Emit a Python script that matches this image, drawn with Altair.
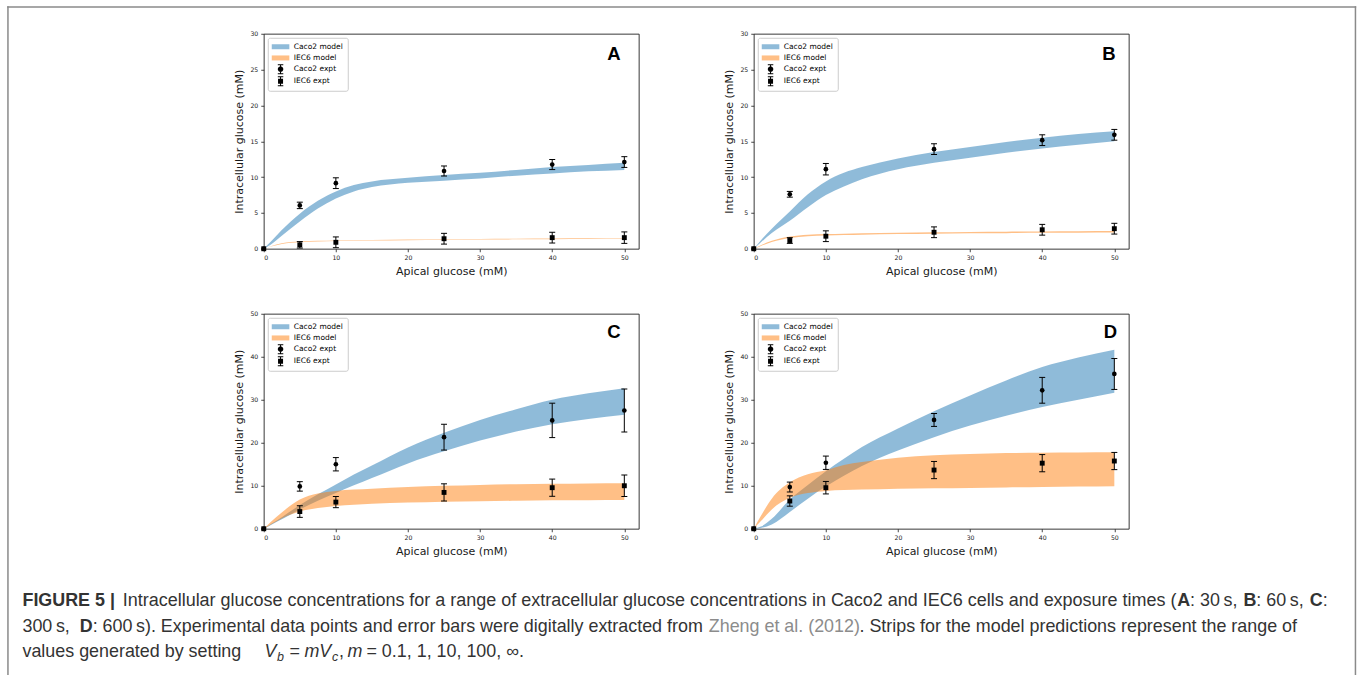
import math
import altair as alt
import pandas as pd

# ---------------- data ----------------
X_EXPT = [0, 5, 10, 25, 40, 50]

A_CACO2_Y = [0, 6.05, 9.15, 10.85, 11.75, 12.1]
A_CACO2_E = [0, 0.45, 0.75, 0.7, 0.7, 0.75]
A_IEC6_Y = [0, 0.55, 0.9, 1.4, 1.55, 1.55]
A_IEC6_E = [0, 0.45, 0.75, 0.75, 0.75, 0.8]

B_CACO2_Y = [0, 7.6, 11.1, 13.9, 15.15, 15.9]
B_CACO2_E = [0, 0.4, 0.8, 0.75, 0.75, 0.75]
B_IEC6_Y = [0, 1.15, 1.75, 2.3, 2.65, 2.8]
B_IEC6_E = [0, 0.4, 0.75, 0.75, 0.75, 0.75]

C_CACO2_Y = [0, 9.85, 15.0, 21.3, 25.2, 27.5]
C_CACO2_E = [0, 1.1, 1.55, 3.0, 4.0, 5.0]
C_IEC6_Y = [0, 4.0, 6.2, 8.45, 9.55, 10.0]
C_IEC6_E = [0, 1.35, 1.3, 2.0, 2.0, 2.5]

D_CACO2_Y = [0, 9.7, 15.35, 25.3, 32.2, 36.0]
D_CACO2_E = [0, 1.15, 1.55, 1.5, 3.0, 3.6]
D_IEC6_Y = [0, 6.45, 9.55, 13.65, 15.25, 15.75]
D_IEC6_E = [0, 1.2, 1.45, 2.0, 2.0, 2.0]

X_BAND = [0, 1, 2.5, 5, 7.5, 10, 12.5, 15, 20, 25, 30, 35, 40, 45, 50]

A_CACO2_LO = [0, 0.6, 1.8, 3.8, 5.6, 7.0, 8.0, 8.6, 9.2, 9.5, 9.8, 10.2, 10.5, 10.8, 11.0]
A_CACO2_HI = [0, 1.0, 2.6, 4.9, 6.7, 8.0, 8.9, 9.4, 9.9, 10.3, 10.6, 11.0, 11.4, 11.7, 12.0]
A_IEC6_LO = [0, 0.3, 0.68, 0.92, 1.02, 1.07, 1.11, 1.14, 1.2, 1.24, 1.28, 1.31, 1.34, 1.37, 1.39]
A_IEC6_HI = [0, 0.36, 0.76, 1.0, 1.1, 1.15, 1.19, 1.22, 1.28, 1.32, 1.36, 1.39, 1.42, 1.45, 1.47]

B_CACO2_LO = [0, 0.9, 2.2, 3.9, 5.8, 7.5, 8.7, 9.7, 11.1, 12.0, 12.7, 13.4, 14.0, 14.5, 15.0]
B_CACO2_HI = [0, 1.2, 2.8, 5.2, 7.6, 9.4, 10.6, 11.4, 12.6, 13.5, 14.2, 14.9, 15.5, 16.0, 16.4]
B_IEC6_LO = [0, 0.4, 0.95, 1.5, 1.75, 1.85, 1.92, 1.97, 2.05, 2.1, 2.15, 2.18, 2.22, 2.25, 2.27]
B_IEC6_HI = [0, 0.5, 1.1, 1.7, 1.95, 2.05, 2.1, 2.15, 2.25, 2.3, 2.35, 2.38, 2.42, 2.45, 2.47]

C_CACO2_LO = [0, 0.9, 2.2, 4.5, 6.5, 8.3, 10.1, 11.8, 15.2, 18.0, 20.5, 22.6, 24.3, 25.5, 26.5]
C_CACO2_HI = [0, 1.1, 2.7, 5.5, 8.0, 10.3, 12.6, 14.7, 18.9, 22.3, 25.3, 27.8, 30.0, 31.5, 32.7]
C_IEC6_LO = [0, 1.0, 2.4, 4.0, 4.8, 5.3, 5.6, 5.8, 6.1, 6.3, 6.4, 6.5, 6.6, 6.65, 6.7]
C_IEC6_HI = [0, 1.6, 3.8, 6.8, 8.2, 8.8, 9.1, 9.3, 9.7, 10.0, 10.2, 10.35, 10.45, 10.55, 10.6]

D_CACO2_LO = [0, 0.2, 1.0, 3.9, 7.0, 9.8, 12.3, 14.6, 18.2, 21.3, 24.0, 26.3, 28.3, 30.0, 31.6]
D_CACO2_HI = [0, 0.5, 2.3, 6.8, 10.2, 13.4, 16.3, 19.0, 23.3, 27.3, 31.0, 34.5, 37.6, 39.8, 41.6]
D_IEC6_LO = [0, 1.8, 4.5, 7.2, 8.3, 8.8, 9.0, 9.1, 9.3, 9.4, 9.5, 9.6, 9.7, 9.8, 9.9]
D_IEC6_HI = [0, 3.0, 7.0, 10.8, 12.7, 13.6, 14.8, 15.5, 16.5, 17.1, 17.4, 17.6, 17.7, 17.75, 17.8]

SERIES = ["Caco2 model", "IEC6 model", "Caco2 expt", "IEC6 expt"]
X_TICKS = [0, 10, 20, 30, 40, 50]
Y_TICKS_30 = [0, 5, 10, 15, 20, 25, 30]
Y_TICKS_50 = [0, 10, 20, 30, 40, 50]

# ---------------- styling ----------------
BLUE = "#1f77b4"
ORANGE = "#ff7f0e"
BLUE_PATCH = "#8fbbd9"
ORANGE_PATCH = "#ffbf86"
INK = "#1a1a1a"
FONT = "DejaVu Sans"
PW, PH = 375, 215
ONE = pd.DataFrame({"d": [0]})


def circle_path(cx, r, n=20):
    pts = []
    for i in range(n):
        a = 2 * math.pi * i / n
        pts.append(f"{cx + r * math.cos(a):.3f},{r * math.sin(a):.3f}")
    return "M" + "L".join(pts) + "Z"


def rect_path(x0, y0, x1, y1):
    return f"M{x0},{y0}H{x1}V{y1}H{x0}Z"


CX = 0.76
ERRBAR = (rect_path(CX - 0.1, -0.9, CX + 0.1, 0.9)
          + rect_path(CX - 0.55, -1.0, CX + 0.55, -0.8)
          + rect_path(CX - 0.55, 0.8, CX + 0.55, 1.0))
PATCH = rect_path(-1, -0.5, 2.52, 0.5)
SYM_CIRCLE = circle_path(CX, 0.55) + ERRBAR
SYM_SQUARE = rect_path(CX - 0.5, -0.5, CX + 0.5, 0.5) + ERRBAR


def make_legend():
    return alt.Legend(
        title=None, orient="top-left", offset=4, padding=4,
        symbolSize=100, symbolStrokeWidth=0,
        labelFont=FONT, labelFontSize=7.5, labelColor="black",
        labelOffset=12, rowPadding=2.2, labelLimit=300,
        strokeColor="#cccccc", fillColor="white", cornerRadius=2,
    )


def panel(bands, expts, ymax, yticks, letter, lx, ly):
    xenc = alt.X("x:Q", scale=alt.Scale(domain=[0, 52], nice=False, zero=False),
                 axis=alt.Axis(values=X_TICKS, title="Apical glucose (mM)"))

    def yenc(field):
        return alt.Y(f"{field}:Q", stack=None,
                     scale=alt.Scale(domain=[0, ymax], nice=False),
                     axis=alt.Axis(values=yticks, title="Intracellular glucose (mM)"))

    layers = []
    for (lo, hi), col in zip(bands, [BLUE, ORANGE]):
        df = pd.DataFrame({"x": X_BAND, "lo": lo, "hi": hi})
        layers.append(
            alt.Chart(df).mark_area(color=col, opacity=0.5, interpolate="monotone")
            .encode(x=xenc, y=yenc("lo"), y2="hi:Q"))
    for (yv, ev), shp, sz in zip(expts, ["circle", "square"], [22, 24]):
        df = pd.DataFrame({"x": X_EXPT, "y": yv, "e": ev})
        base = alt.Chart(df).transform_calculate(lo="datum.y - datum.e", hi="datum.y + datum.e")
        eb = base.transform_filter("datum.e > 0")
        layers.append(eb.mark_rule(color="black", strokeWidth=1, opacity=1)
                      .encode(x=xenc, y=yenc("lo"), y2="hi:Q"))
        for f in ["lo", "hi"]:
            layers.append(eb.mark_tick(color="black", orient="horizontal", size=6,
                                       thickness=1, opacity=1)
                          .encode(x=xenc, y=yenc(f)))
        layers.append(base.mark_point(shape=shp, filled=True, size=sz, color="black",
                                      opacity=1, strokeWidth=0)
                      .encode(x=xenc, y=yenc("y")))
    leg = make_legend()
    layers.append(
        alt.Chart(pd.DataFrame({"series": SERIES})).transform_filter("false")
        .mark_point(filled=True, opacity=1)
        .encode(color=alt.Color("series:N", legend=leg,
                                scale=alt.Scale(domain=SERIES,
                                                range=[BLUE_PATCH, ORANGE_PATCH, "black", "black"])),
                shape=alt.Shape("series:N", legend=leg,
                                scale=alt.Scale(domain=SERIES,
                                                range=[PATCH, PATCH, SYM_CIRCLE, SYM_SQUARE]))))
    layers.append(
        alt.Chart(ONE).mark_text(text=letter, font="Liberation Sans", fontSize=18.5,
                                 fontWeight="bold", align="left", baseline="alphabetic",
                                 color="black")
        .encode(x=alt.value(lx), y=alt.value(ly)))
    return alt.layer(*layers).properties(
        width=PW, height=PH,
        view=alt.ViewBackground(stroke="#222222", strokeWidth=0.9))


pA = panel([(A_CACO2_LO, A_CACO2_HI), (A_IEC6_LO, A_IEC6_HI)],
           [(A_CACO2_Y, A_CACO2_E), (A_IEC6_Y, A_IEC6_E)], 30, Y_TICKS_30, "A", 343.5, 26)
pB = panel([(B_CACO2_LO, B_CACO2_HI), (B_IEC6_LO, B_IEC6_HI)],
           [(B_CACO2_Y, B_CACO2_E), (B_IEC6_Y, B_IEC6_E)], 30, Y_TICKS_30, "B", 348.5, 26)
pC = panel([(C_CACO2_LO, C_CACO2_HI), (C_IEC6_LO, C_IEC6_HI)],
           [(C_CACO2_Y, C_CACO2_E), (C_IEC6_Y, C_IEC6_E)], 50, Y_TICKS_50, "C", 343.5, 24.5)
pD = panel([(D_CACO2_LO, D_CACO2_HI), (D_IEC6_LO, D_IEC6_HI)],
           [(D_CACO2_Y, D_CACO2_E), (D_IEC6_Y, D_IEC6_E)], 50, Y_TICKS_50, "D", 350, 24.5)

# ---------------- caption ----------------
OX, OY = 263.3, 593.3
TXT = "#333333"
LINK = "#8c8c8c"
FS = 17.9
B1, B2, B3 = 606, 632, 657


def seg(text, x, y, weight="normal", color=TXT, style="normal", size=FS, align="left"):
    return (alt.Chart(ONE)
            .mark_text(text=text, font="Liberation Sans", fontSize=size, fontWeight=weight,
                       fontStyle=style, color=color, align=align, baseline="alphabetic")
            .encode(x=alt.value(x - OX), y=alt.value(y - OY)))


def border(x1, y1, x2, y2):
    return (alt.Chart(ONE)
            .mark_rule(color="#8a8a8a", strokeWidth=1.5, strokeCap="square")
            .encode(x=alt.value(x1 - OX), y=alt.value(y1 - OY),
                    x2=alt.value(x2 - OX), y2=alt.value(y2 - OY)))


TS = "\u2009"
caption_layers = [
    border(7.5, 6.5, 1355, 6.5),
    border(7.5, 6.5, 7.5, 674),
    border(1355, 6.5, 1355, 674),
    seg("FIGURE 5 |", 22, B1, weight="bold"),
    seg("Intracellular glucose concentrations for a range of extracellular glucose "
        "concentrations in Caco2 and IEC6 cells and exposure times (", 1176, B1,
        align="right", size=17.98),
    seg("A", 1176.7, B1, weight="bold"),
    seg(f": 30{TS}s, ", 1189.6, B1),
    seg("B", 1243, B1, weight="bold"),
    seg(f": 60{TS}s, ", 1255.9, B1),
    seg("C", 1309.3, B1, weight="bold"),
    seg(":", 1322.2, B1),
    seg(f"300{TS}s, ", 22, B2),
    seg("D", 79.3, B2, weight="bold"),
    seg(f": 600{TS}s). Experimental data points and error bars were digitally extracted from",
        92.2, B2),
    seg("Zheng et al. (2012)", 708.3, B2, color=LINK),
    seg(". Strips for the model predictions represent the range of", 859, B2),
    seg("values generated by setting", 22, B3),
    seg("V", 264, B3, style="italic"),
    seg("b", 276.5, B3 + 4, style="italic", size=12.5),
    seg("=", 289, B3),
    seg("mV", 304, B3, style="italic"),
    seg("c", 331.5, B3 + 4, style="italic", size=12.5),
    seg(",", 338.5, B3),
    seg("m", 347, B3, style="italic"),
    seg("= 0.1, 1, 10, 100, \u221e.", 366, B3),
]
caption = alt.layer(*caption_layers).properties(width=PW, height=60)

chart = (
    alt.concat(pA, pB, pC, pD, caption, columns=2,
               spacing={"row": 65, "column": 115}, bounds="flush", align="each")
    .resolve_scale(color="independent", shape="independent")
    .properties(padding={"left": 6.75, "top": 5.75, "right": 0, "bottom": 0},
                background="white")
    .configure_view(stroke=None)
    .configure_axis(labelFont=FONT, labelFontSize=6.2, labelColor=INK,
                    titleFont=FONT, titleFontSize=11, titleFontWeight="normal",
                    titleColor=INK, tickColor=INK, tickSize=3, tickWidth=0.8,
                    grid=False, domain=False, labelPadding=3, titlePadding=4.5)
    .configure_axisY(titlePadding=5)
)

chart.save("out.html", embed_options={"renderer": "svg", "actions": False})
